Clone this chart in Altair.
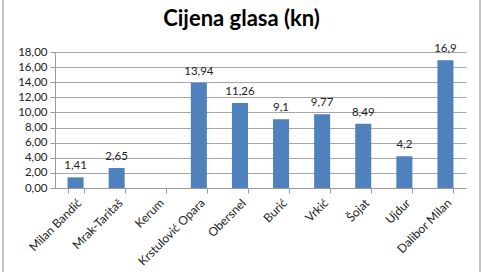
import altair as alt
import pandas as pd

categories = ["Milan Bandić", "Mrak-Taritaš", "Kerum", "Krstulović Opara", "Obersnel",
              "Burić", "Vrkić", "Šojat", "Ujdur", "Dalibor Milan"]
values = [1.41, 2.65, None, 13.94, 11.26, 9.1, 9.77, 8.49, 4.2, 16.9]
y_ticks = [0, 2, 4, 6, 8, 10, 12, 14, 16, 18]

df = pd.DataFrame({"kandidat": categories, "cijena": values})

FONT = "Lato"
W, H = 411, 136

xscale = alt.Scale(paddingInner=0.61, paddingOuter=0.305)
x_enc = alt.X("kandidat:N", sort=categories, scale=xscale, title=None,
              axis=alt.Axis(labelAngle=-45, labelAlign="right", labelBaseline="top",
                            labelFontSize=12, labelColor="#222", labelFont=FONT,
                            labelPadding=4, tickBand="extent", tickSize=5,
                            tickColor="#9a9a9a", domainColor="#9a9a9a", labelOverlap=False))
y_enc = alt.Y("cijena:Q", scale=alt.Scale(domain=[0, 18], nice=False), title=None,
              axis=alt.Axis(values=y_ticks, labelExpr="replace(format(datum.value, '.2f'), '.', ',')",
                            labelFontSize=11.5, labelColor="#222", labelFont=FONT,
                            gridColor="#a6a6a6", tickColor="#9a9a9a", domainColor="#9a9a9a",
                            tickSize=5, labelPadding=3, labelOverlap=False))

bars = alt.Chart(df).mark_bar(color="#4f81bd").encode(x=x_enc, y=y_enc)

labels = alt.Chart(df).transform_filter("isValid(datum.cijena)").transform_calculate(
    lbl="replace(toString(datum.cijena), '.', ',')"
).mark_text(baseline="alphabetic", dy=-8, fontSize=11.5, font=FONT, color="#222").encode(
    x=x_enc,
    y=y_enc,
    text="lbl:N",
)

border_left = alt.Chart(df).mark_rule(color="#c4c4c4", strokeWidth=2).encode(
    x=alt.value(-52), y=alt.value(-52), y2=alt.value(220))
border_right = alt.Chart(df).mark_rule(color="#c4c4c4", strokeWidth=2).encode(
    x=alt.value(425), y=alt.value(-52), y2=alt.value(220))

chart = alt.layer(bars, labels, border_left, border_right).properties(
    width=W, height=H,
    title=alt.TitleParams("Cijena glasa (kn)", font=FONT, fontSize=22, fontWeight="bold",
                          color="#000", anchor="middle", frame="group", dx=-19, offset=-32),
    autosize=alt.AutoSizeParams(type="none"),
    padding={"left": 55, "top": 52, "right": 16, "bottom": 84},
).configure_view(stroke=None).configure_axisY(domain=True)

chart.save("out.html", embed_options={"renderer": "svg", "actions": False})
